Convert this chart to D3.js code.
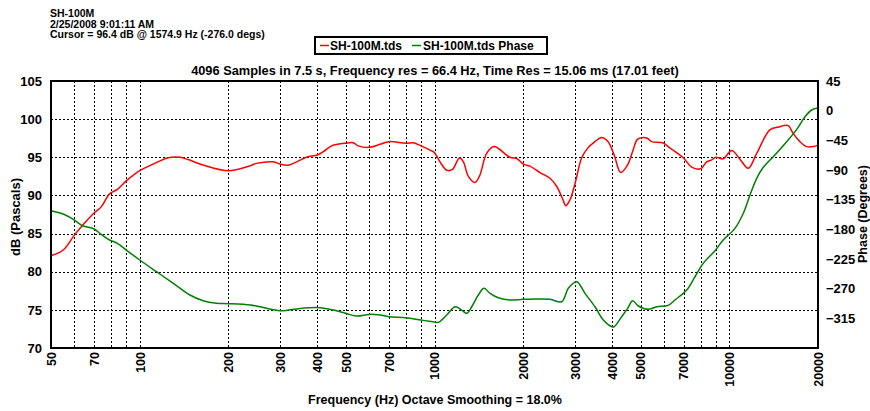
<!DOCTYPE html>
<html>
<head>
<meta charset="utf-8">
<script src="https://cdn.jsdelivr.net/npm/d3@7"></script>
<style>
  body { margin: 0; background: #fff; }
  svg { display: block; font-family: "Liberation Sans", Arial, sans-serif; font-weight: bold; }
</style>
</head>
<body>
<svg id="chart" width="870" height="411"></svg>
<script>
// header / titles
var headerLines = ["SH-100M", "2/25/2008 9:01:11 AM", "Cursor = 96.4 dB @ 1574.9 Hz (-276.0 degs)"];
var titleText = "4096 Samples in 7.5 s, Frequency res = 66.4 Hz, Time Res = 15.06 ms (17.01 feet)";
var seriesNames = ["SH-100M.tds", "SH-100M.tds Phase"];

// axes
var freqLabels = [50, 70, 100, 200, 300, 400, 500, 700, 1000, 2000, 3000, 4000, 5000, 7000, 10000, 20000];
var freqGrid = [60, 70, 80, 90, 100, 200, 300, 400, 500, 600, 700, 800, 900, 1000,
  2000, 3000, 4000, 5000, 6000, 7000, 8000, 9000, 10000];
var dbTicks = [70, 75, 80, 85, 90, 95, 100, 105];
var phaseTicks = [-315, -270, -225, -180, -135, -90, -45, 0, 45];

// magnitude (red)
var magFreq = [50, 55, 60, 64, 70, 74, 79, 84, 90, 100, 111, 125, 137, 146, 164, 200, 237, 249, 284, 300,
  319, 368, 400, 420, 448, 500, 530, 551, 600, 653, 700, 800, 848, 900, 970, 1000, 1044, 1100, 1150,
  1215, 1253, 1303, 1372, 1420, 1503, 1591, 1802, 1909, 2000, 2108, 2280, 2465, 2596, 2717, 2790, 2880,
  3000, 3155, 3310, 3503, 3690, 3880, 4070, 4280, 4520, 4700, 4880, 5100, 5270, 5453, 5950, 6200, 6520,
  7000, 7455, 8000, 8385, 8717, 9000, 9540, 10190, 10870, 11600, 12390, 13740, 14860, 15250, 15850,
  16490, 17370, 18300, 19270, 20000];
var magDb = [82.1, 82.85, 84.8, 86.1, 87.7, 88.5, 90.2, 90.8, 91.9, 93.25, 94.1, 94.95, 95.0, 94.7, 94.0,
  93.25, 93.9, 94.2, 94.4, 94.1, 93.95, 95.0, 95.3, 95.75, 96.5, 96.85, 96.9, 96.5, 96.3, 96.7, 97.05,
  96.85, 96.9, 96.5, 95.9, 95.6, 94.4, 93.3, 93.4, 94.9, 94.4, 92.5, 91.7, 92.5, 95.5, 96.4, 95.0, 94.8,
  94.1, 93.85, 93.0, 92.25, 91.2, 89.6, 88.65, 89.4, 91.6, 94.9, 96.2, 97.05, 97.6, 97.05, 95.3, 93.0,
  94.0, 95.75, 97.35, 97.6, 97.5, 97.05, 96.9, 96.4, 95.8, 94.9, 93.7, 93.5, 94.4, 94.65, 95.0, 94.8,
  95.9, 94.75, 93.55, 95.5, 98.6, 99.0, 99.15, 99.15, 98.1, 97.05, 96.4, 96.4, 96.6];

// phase (green)
var phaseFreq = [50, 55, 60, 64, 70, 74, 79, 84, 90, 100, 114, 130, 148, 164, 182, 200, 237, 256, 300, 350,
  409, 454, 500, 545, 600, 653, 700, 800, 900, 987, 1030, 1100, 1174, 1237, 1286, 1337, 1408, 1472, 1543,
  1646, 1802, 2000, 2222, 2465, 2701, 2844, 3037, 3240, 3503, 3738, 4000, 4070, 4315, 4520, 4702, 4913,
  5313, 5675, 6200, 6544, 7170, 7650, 8165, 8945, 9540, 10455, 11160, 11755, 12390, 13045, 14100, 15660,
  16940, 18070, 19040, 19790, 20000];
var phaseDeg = [-151.7, -156.8, -165.9, -174.5, -179.5, -187.6, -196.2, -201.2, -211.4, -226.5, -244.3,
  -261.9, -279.6, -288.3, -292.2, -292.8, -294.8, -297.4, -303.5, -299.9, -298.9, -302.4, -307.4, -311.5,
  -309.0, -310.0, -312.5, -314.1, -317.6, -320.1, -321.1, -310.0, -297.4, -302.4, -307.4, -297.4, -279.6,
  -269.5, -277.1, -283.7, -287.2, -286.2, -285.7, -286.2, -289.8, -269.5, -259.5, -277.1, -297.4, -317.6,
  -327.7, -327.7, -312.5, -299.9, -288.3, -296.3, -301.4, -297.4, -295.3, -287.2, -272.1, -251.9, -231.5,
  -212.4, -196.2, -178.5, -155.7, -127.9, -102.6, -85.9, -69.8, -47.0, -28.3, -9.1, 1.0, 3.6, 2.0];

var margin = { left: 51, right: 818, top: 81, bottom: 348 };
var svg = d3.select("#chart");

var x = d3.scaleLog().domain([50, 20000]).range([margin.left, margin.right]);
var yDb = d3.scaleLinear().domain([70, 105]).range([margin.bottom, margin.top]);
var yPh = d3.scaleLinear().domain([-360, 45]).range([margin.bottom, margin.top]);

// header
svg.append("g").selectAll("text").data(headerLines).enter().append("text")
  .attr("x", 50).attr("y", function(d, i) { return 17 + i * 10.5; })
  .attr("font-size", 10.5).text(function(d) { return d; });

// legend
var lg = svg.append("g");
lg.append("rect").attr("x", 315).attr("y", 37).attr("width", 232).attr("height", 17)
  .attr("fill", "#fff").attr("stroke", "#000").attr("stroke-width", 2);
lg.append("line").attr("x1", 320).attr("x2", 329).attr("y1", 45.5).attr("y2", 45.5)
  .attr("stroke", "#ff0000").attr("stroke-width", 1.5);
lg.append("text").attr("x", 330).attr("y", 50).attr("font-size", 12).text(seriesNames[0]);
lg.append("line").attr("x1", 412).attr("x2", 421).attr("y1", 45.5).attr("y2", 45.5)
  .attr("stroke", "#008000").attr("stroke-width", 1.5);
lg.append("text").attr("x", 423).attr("y", 50).attr("font-size", 12).text(seriesNames[1]);

// title
svg.append("text").attr("x", 435).attr("y", 75).attr("text-anchor", "middle")
  .attr("font-size", 12.8).text(titleText);

// grid
var grid = svg.append("g").attr("stroke", "#000").attr("stroke-width", 1).attr("stroke-dasharray", "2,2");
grid.selectAll("line.v").data(freqGrid).enter().append("line")
  .attr("x1", function(d) { return Math.round(x(d)) + 0.5; })
  .attr("x2", function(d) { return Math.round(x(d)) + 0.5; })
  .attr("y1", margin.top).attr("y2", margin.bottom);
grid.selectAll("line.h").data(dbTicks.slice(1, -1)).enter().append("line")
  .attr("y1", function(d) { return Math.round(yDb(d)) + 0.5; })
  .attr("y2", function(d) { return Math.round(yDb(d)) + 0.5; })
  .attr("x1", margin.left).attr("x2", margin.right);

// curves
var line = d3.line().curve(d3.curveCatmullRom.alpha(0.5));
svg.append("path")
  .attr("d", line(magFreq.map(function(f, i) { return [x(f), yDb(magDb[i])]; })))
  .attr("fill", "none").attr("stroke", "#ff0000").attr("stroke-width", 1.5);
svg.append("path")
  .attr("d", line(phaseFreq.map(function(f, i) { return [x(f), yPh(phaseDeg[i])]; })))
  .attr("fill", "none").attr("stroke", "#008000").attr("stroke-width", 1.5);

// frame
svg.append("rect").attr("x", margin.left).attr("y", margin.top)
  .attr("width", margin.right - margin.left).attr("height", margin.bottom - margin.top)
  .attr("fill", "none").attr("stroke", "#000").attr("stroke-width", 2);

// axes
var axL = svg.append("g").attr("transform", "translate(" + margin.left + ",0)")
  .call(d3.axisLeft(yDb).tickValues(dbTicks).tickSize(0).tickPadding(9));
var axR = svg.append("g").attr("transform", "translate(" + margin.right + ",0)")
  .call(d3.axisRight(yPh).tickValues(phaseTicks).tickSize(0).tickPadding(8));
var axB = svg.append("g").attr("transform", "translate(0," + margin.bottom + ")")
  .call(d3.axisBottom(x).tickValues(freqLabels).tickFormat(d3.format("d")).tickSize(0));
[axL, axR, axB].forEach(function(a) {
  a.select(".domain").remove();
  a.selectAll("text").attr("font-size", 13).attr("font-family", null).attr("font-weight", "bold").attr("fill", "#000");
});
axB.selectAll("text").attr("font-size", 12.5)
  .attr("transform", "rotate(-90)").attr("text-anchor", "end")
  .attr("x", -4).attr("y", 0).attr("dy", "0.35em");

// axis titles
svg.append("text").attr("x", 435).attr("y", 404).attr("text-anchor", "middle")
  .attr("font-size", 12.5).text("Frequency (Hz) Octave Smoothing = 18.0%");
svg.append("text").attr("transform", "translate(20,217) rotate(-90)").attr("text-anchor", "middle")
  .attr("font-size", 13).text("dB (Pascals)");
svg.append("text").attr("transform", "translate(867,214) rotate(-90)").attr("text-anchor", "middle")
  .attr("font-size", 12.5).text("Phase (Degrees)");
</script>
</body>
</html>
